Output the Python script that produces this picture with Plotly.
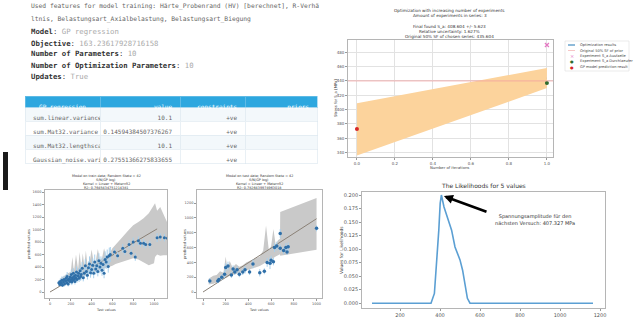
import plotly.graph_objects as go

W, H = 641, 320


def px(x):
    return x / W


def py(y):
    return 1 - y / H


# ---------------- data ----------------
feature_line1 = "Used features for model training: Härte_Probenrand (HV) [berechnet], R-Verhä"
feature_line2 = "ltnis, Belastungsart_Axialbelastung, Belastungsart_Biegung"
info_keys = ["Model", "Objective", "Number of Parameters", "Number of Optimization Parameters", "Updates"]
info_vals = ["GP regression", "163.23617928716158", "10", "10", "True"]

table_header = ["GP_regression", "value", "constraints", "priors"]
table_names = ["sum.linear.variance", "sum.Mat32.variance", "sum.Mat32.lengthscale", "Gaussian_noise.vari"]
table_values = ["10.1", "0.14594384507376267", "10.1", "0.27551366275833655"]
table_constraints = ["+ve", "+ve", "+ve", "+ve"]
table_priors = ["", "", "", ""]

# optimisation plot
iter_x = [0, 1]
opt_mean = [373, 444]
opt_upper = [409, 458]
opt_lower = [336, 430]
prior_sf = 440
fail_x, fail_y = [1], [490]
runout_x, runout_y = [1], [437]
gp_x, gp_y = [0], [373]

# train scatter
train_true = [85, 95, 100, 110, 115, 120, 130, 135, 140, 150,
              155, 160, 165, 170, 175, 180, 190, 195, 200, 205,
              210, 215, 220, 225, 230, 235, 240, 245, 250, 255,
              260, 270, 275, 280, 290, 295, 300, 310, 320, 330,
              340, 350, 360, 370, 380, 390, 400, 410, 420, 430,
              440, 450, 460, 470, 480, 490, 500, 510, 520, 530,
              540, 550, 560, 570, 580, 620, 650, 700, 720, 760,
              780, 800, 820, 850, 870, 900, 920, 960, 1030, 1060,
              1100, 1130]
train_pred = [150, 120, 170, 140, 190, 110, 160, 200, 130, 180,
              220, 150, 250, 190, 130, 210, 170, 240, 200, 280,
              160, 230, 190, 300, 250, 210, 170, 270, 230, 320,
              200, 260, 300, 220, 340, 250, 280, 380, 230, 300,
              420, 330, 270, 390, 450, 310, 360, 430, 300, 480,
              370, 420, 330, 500, 400, 460, 350, 440, 300, 520,
              480, 560, 410, 580, 600, 640, 580, 700, 650, 760,
              620, 800, 560, 820, 780, 780, 760, 760, 870, 880,
              870, 860]
train_err = [40, 30, 50, 40, 60, 30, 50, 60, 40, 50,
             60, 40, 70, 50, 40, 60, 50, 70, 60, 80,
             50, 60, 50, 80, 70, 60, 50, 70, 60, 90,
             50, 70, 80, 60, 90, 70, 80, 100, 60, 80,
             110, 90, 70, 100, 120, 80, 90, 110, 80, 120,
             90, 110, 80, 120, 100, 110, 90, 110, 80, 130,
             110, 120, 100, 130, 120, 60, 60, 70, 60, 70,
             60, 70, 60, 70, 60, 70, 60, 60, 70, 60,
             60, 60]
train_band_x = [80, 110, 140, 170, 200, 215, 230, 250, 270, 285,
                300, 315, 330, 345, 360, 380, 400, 420, 440, 460,
                480, 500, 520, 540, 560, 580, 600, 630, 680, 750,
                800, 850, 900, 950, 1000, 1010, 1030, 1060, 1090, 1130]
train_band_up = [170, 230, 260, 300, 320, 560, 330, 600, 360, 640,
                 390, 620, 420, 660, 440, 470, 680, 480, 500, 690,
                 520, 540, 700, 560, 600, 640, 700, 760, 850, 980,
                 1070, 1120, 1180, 1260, 1380, 1420, 1300, 1360, 1250, 1100]
train_band_lo = [80, 100, 120, 140, 160, 170, 180, 200, 210, 220,
                 230, 240, 260, 270, 280, 300, 310, 320, 330, 340,
                 350, 360, 370, 380, 390, 400, 420, 450, 480, 520,
                 540, 520, 480, 430, 460, 560, 600, 580, 590, 590]
train_diag_x = [0, 1030]
train_diag_y = [0, 1010]

# test scatter
test_true = [60, 130, 140, 165, 190, 200, 220, 250, 265, 280,
             300, 320, 350, 370, 410, 440, 500, 540, 565, 590,
             600, 620, 630, 650, 680, 710, 730, 740, 750, 680, 1000]
test_pred = [150, 150, 170, 200, 240, 330, 350, 230, 310, 270,
             300, 240, 270, 300, 270, 380, 260, 280, 400, 390,
             430, 410, 600, 620, 590, 560, 600, 540, 610, 790, 860]
test_err = [40, 30, 30, 40, 50, 60, 60, 40, 50, 40,
            50, 40, 40, 50, 40, 60, 50, 40, 60, 80,
            60, 50, 60, 60, 50, 50, 60, 40, 60, 60, 40]
test_band_x = [50, 90, 120, 150, 180, 200, 215, 235, 260, 290,
               320, 350, 380, 420, 460, 500, 530, 555, 580, 600,
               620, 640, 660, 678, 680, 1000]
test_band_up = [180, 220, 230, 280, 260, 480, 300, 420, 330, 380,
                340, 360, 400, 430, 450, 480, 560, 900, 560, 620,
                850, 640, 700, 720, 1080, 1270]
test_band_lo = [100, 110, 130, 150, 170, 180, 200, 220, 230, 240,
                250, 270, 290, 310, 330, 350, 380, 400, 420, 440,
                460, 480, 500, 510, 490, 570]
test_diag_x = [0, 1000]
test_diag_y = [0, 990]

# likelihood
lik_x = [60, 355, 372, 384, 394, 401, 407, 420, 437, 458, 475, 500, 513, 522, 528, 537, 550, 600, 1165]
lik_y = [0, 0, 0.018, 0.074, 0.135, 0.185, 0.2, 0.178, 0.16, 0.135, 0.104, 0.08, 0.061, 0.043, 0.024, 0.009, 0, 0, 0]
peak_x, peak_y = 407.327, 0.2

# ---------------- figure ----------------
fig = go.Figure()

# table
fig.add_trace(go.Table(
    domain=dict(x=[px(25), px(318)], y=[py(165), py(96)]),
    columnwidth=[75, 80, 65, 72],
    header=dict(values=table_header, fill_color="#2da7df",
                font=dict(family="DejaVu Sans Mono", size=6, color="white"),
                align=["center", "right", "right", "right"], height=11,
                line=dict(color="#7fc6ea", width=0.6)),
    cells=dict(values=[table_names, table_values, table_constraints, table_priors],
               fill_color=[["#f3f8fb", "white", "#f3f8fb", "white"]],
               font=dict(family="DejaVu Sans Mono", size=6, color="#666"),
               align=["left", "right", "right", "right"], height=14,
               line=dict(color="#dbe6ee", width=0.6)),
))

# optimisation plot
fig.add_trace(go.Scatter(x=iter_x, y=opt_mean, mode="lines", line=dict(color="#1f77b4", width=1),
                         xaxis="x", yaxis="y", showlegend=False))
fig.add_trace(go.Scatter(x=iter_x, y=opt_upper, mode="lines", line=dict(width=0),
                         xaxis="x", yaxis="y", showlegend=False))
fig.add_trace(go.Scatter(x=iter_x, y=opt_lower, mode="lines", line=dict(width=0), fill="tonexty",
                         fillcolor="#fcd39c", xaxis="x", yaxis="y", showlegend=False))
fig.add_trace(go.Scatter(x=fail_x, y=fail_y, mode="markers", marker=dict(symbol="x-thin", size=4,
                         line=dict(color="#e377c2", width=1.2)), xaxis="x", yaxis="y", showlegend=False))
fig.add_trace(go.Scatter(x=runout_x, y=runout_y, mode="markers", marker=dict(size=4, color="#2e6b2e"),
                         xaxis="x", yaxis="y", showlegend=False))
fig.add_trace(go.Scatter(x=gp_x, y=gp_y, mode="markers", marker=dict(size=4, color="#d62728"),
                         xaxis="x", yaxis="y", showlegend=False))

# train scatter
fig.add_trace(go.Scatter(x=train_band_x, y=train_band_up, mode="lines", line=dict(width=0),
                         xaxis="x2", yaxis="y2", showlegend=False))
fig.add_trace(go.Scatter(x=train_band_x, y=train_band_lo, mode="lines", line=dict(width=0), fill="tonexty",
                         fillcolor="#c9c9c9", xaxis="x2", yaxis="y2", showlegend=False))
fig.add_trace(go.Scatter(x=train_diag_x, y=train_diag_y, mode="lines", line=dict(color="#8a8076", width=1),
                         xaxis="x2", yaxis="y2", showlegend=False))
fig.add_trace(go.Scatter(x=train_true, y=train_pred, mode="markers",
                         marker=dict(size=3, color="#2f6fa8"),
                         error_y=dict(type="data", array=train_err, color="#a9d0ec", thickness=1, width=0),
                         xaxis="x2", yaxis="y2", showlegend=False))

# test scatter
fig.add_trace(go.Scatter(x=test_band_x, y=test_band_up, mode="lines", line=dict(width=0),
                         xaxis="x3", yaxis="y3", showlegend=False))
fig.add_trace(go.Scatter(x=test_band_x, y=test_band_lo, mode="lines", line=dict(width=0), fill="tonexty",
                         fillcolor="#c9c9c9", xaxis="x3", yaxis="y3", showlegend=False))
fig.add_trace(go.Scatter(x=test_diag_x, y=test_diag_y, mode="lines", line=dict(color="#8a8076", width=1),
                         xaxis="x3", yaxis="y3", showlegend=False))
fig.add_trace(go.Scatter(x=test_true, y=test_pred, mode="markers",
                         marker=dict(size=3.5, color="#2f6fa8"),
                         error_y=dict(type="data", array=test_err, color="#a9d0ec", thickness=1, width=0),
                         xaxis="x3", yaxis="y3", showlegend=False))

# likelihood
fig.add_trace(go.Scatter(x=lik_x, y=lik_y, mode="lines", line=dict(color="#5b9fd3", width=1.6),
                         xaxis="x4", yaxis="y4", showlegend=False))


def axis(dom, rng, tick0, dtick, fmt, fs, anchor, grid=False):
    return dict(domain=dom, range=rng, tick0=tick0, dtick=dtick, tickformat=fmt,
                showline=True, mirror=True, linecolor="#b5b5b5", linewidth=0.8,
                ticks="outside", ticklen=2, tickwidth=0.6, tickcolor="#999",
                tickfont=dict(family="DejaVu Sans", size=fs, color="#555"),
                showgrid=grid, gridcolor="#e2e2e2", gridwidth=0.7, zeroline=False, anchor=anchor)


fig.update_layout(
    width=W, height=H, margin=dict(l=0, r=0, t=0, b=0),
    paper_bgcolor="white", plot_bgcolor="white", showlegend=False,
    xaxis=axis([px(348), px(553)], [-0.047, 1.032], 0, 0.2, ".1f", 4, "y", grid=True),
    yaxis=axis([py(157), py(40)], [334, 497], 340, 20, "d", 4, "x", grid=True),
    xaxis2=axis([px(45), px(167)], [-48, 1125], 0, 200, "d", 3.5, "y2"),
    yaxis2=axis([py(298), py(190)], [-96, 1632], 0, 200, "d", 3.5, "x2"),
    xaxis3=axis([px(197), px(322)], [-53, 1048], 0, 200, "d", 3.5, "y3"),
    yaxis3=axis([py(298), py(190)], [-81, 1378], 0, 200, "d", 3.5, "x3"),
    xaxis4=axis([px(362), px(605)], [10, 1225], 0, 200, "d", 5, "y4"),
    yaxis4=axis([py(308), py(192)], [-0.0089, 0.2056], 0, 0.025, ".3f", 5, "x4"),
)

# horizontal line of original SF
fig.add_shape(type="line", xref="x domain", yref="y", x0=0, x1=1, y0=prior_sf, y1=prior_sf,
              line=dict(color="#f2a0a0", width=0.8))

# black bar on the left
fig.add_shape(type="rect", xref="paper", yref="paper", x0=px(3), x1=px(8), y0=py(190), y1=py(152),
              fillcolor="#1a1a1a", line=dict(width=0))

ann = []


def txt(x, y, s, size, color="#444", xanchor="left", family="DejaVu Sans", angle=0):
    ann.append(dict(x=px(x), y=py(y), xref="paper", yref="paper", text=s, showarrow=False,
                    xanchor=xanchor, yanchor="middle", textangle=angle,
                    font=dict(family=family, size=size, color=color)))


# top-left notebook text
txt(29, 6, feature_line1, 6.3, "#666", family="DejaVu Sans Mono")
txt(29, 19, feature_line2, 6.3, "#666", family="DejaVu Sans Mono")
info_y = [32, 43, 54, 65, 76]
for k, v, yy in zip(info_keys, info_vals, info_y):
    txt(29, yy, "<b>%s</b>: <span style='color:#aaa'>%s</span>" % (k, v), 7.3, "#333",
        family="DejaVu Sans Mono")

# optimisation plot titles
txt(450, 10, "Optimization with increasing number of experiments", 4.2, "#333", "center")
txt(450, 15.5, "Amount of experiments in series: 3", 4.2, "#333", "center")
txt(450, 26, "Final found S_a: 408.604 +/- 5.623", 4.2, "#333", "center")
txt(450, 31, "Relative uncertainty: 1.627%", 4.2, "#333", "center")
txt(450, 36, "Original 50% SF of chosen series: 435.604", 4.2, "#333", "center")
txt(335, 98, "Stress for S_a [MPa]", 3.8, "#444", "center", angle=-90)
txt(450, 167, "Number of iterations", 3.8, "#444", "center")

# manual legend for optimisation plot
fig.add_shape(type="rect", xref="paper", yref="paper", x0=px(565), x1=px(629), y0=py(71), y1=py(41),
              line=dict(color="#dddddd", width=0.6), fillcolor="white")
leg_y = [45, 50.5, 56, 61.5, 67]
leg_txt = ["Optimization results", "Original 50% SF of prior", "Experiment S_a Ausfaelle",
           "Experiment S_a Durchlaeufer", "GP model prediction result"]
fig.add_shape(type="line", xref="paper", yref="paper", x0=px(568), x1=px(575), y0=py(leg_y[0]), y1=py(leg_y[0]),
              line=dict(color="#1f77b4", width=1))
fig.add_shape(type="line", xref="paper", yref="paper", x0=px(568), x1=px(575), y0=py(leg_y[1]), y1=py(leg_y[1]),
              line=dict(color="#f2a0a0", width=0.6))
txt(571.5, leg_y[2], "×", 5, "#e377c2", "center")
txt(571.5, leg_y[3], "●", 4, "#2e6b2e", "center")
txt(571.5, leg_y[4], "●", 4, "#d62728", "center")
for t, yy in zip(leg_txt, leg_y):
    txt(578, yy, t, 3.6, "#444")

# train/test titles
train_title = ["Model on train data; Random State = 42", "S/N(GP log)", "Kernel = Linear + Matern52",
               "R2: 0.7645434751214381"]
test_title = ["Model on test data; Random State = 42", "S/N(GP log)", "Kernel = Linear + Matern52",
              "R2: 0.7826439974963018"]
for i, yy in enumerate([175.5, 179.5, 183.5, 187.5]):
    txt(106, yy, train_title[i], 3.4, "#333", "center")
    txt(259, yy, test_title[i], 3.4, "#333", "center")
txt(106, 309.5, "Test values", 3.4, "#444", "center")
txt(259, 309.5, "Test values", 3.4, "#444", "center")
txt(29, 244, "predicted values", 3.6, "#444", "center", angle=-90)
txt(185, 244, "predicted values", 3.6, "#444", "center", angle=-90)

# likelihood titles
txt(483, 185, "The Likelihoods for 5 values", 6, "#333", "center")
txt(341, 250, "Values for Likelihoods", 4.4, "#444", "center", angle=-90)

# arrow + text
ann.append(dict(x=peak_x + 12, y=peak_y - 0.002, xref="x4", yref="y4", ax=640, ay=0.168, axref="x4", ayref="y4",
                text="", showarrow=True, arrowhead=2, arrowsize=0.7, arrowwidth=2.6, arrowcolor="black"))
ann.append(dict(x=875, y=0.154, xref="x4", yref="y4", showarrow=False,
                text="Spannungsamplitude für den<br>nächsten Versuch: 407.327 MPa",
                font=dict(family="DejaVu Sans", size=5, color="#333"), align="center"))

fig.update_layout(annotations=ann)

fig.write_html("out.html", config={"displayModeBar": False},
               post_script="document.body.style.margin='0';document.body.style.padding='0';")
